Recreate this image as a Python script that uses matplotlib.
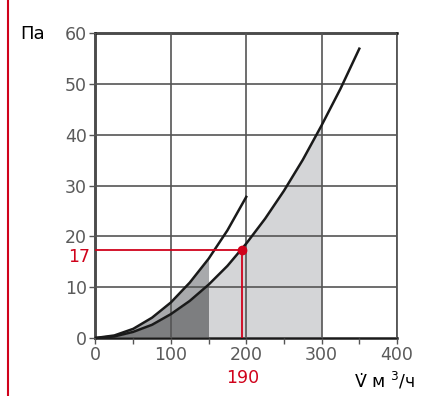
import numpy as np
import matplotlib.pyplot as plt

# upper curve (reduced range) and lower curve
x_up = [0, 25, 50, 75, 100, 125, 150, 175, 200]
y_up = [0, 0.5, 1.8, 4.0, 7.0, 10.9, 15.6, 21.2, 27.8]
x_lo = [0, 25, 50, 75, 100, 125, 150, 175, 200, 225, 250, 275, 300, 325, 350]
y_lo = [0, 0.3, 1.2, 2.6, 4.7, 7.3, 10.5, 14.2, 18.6, 23.5, 29.0, 35.1, 41.9, 49.1, 57.0]

# operating point
op_x, op_y = 195, 17.4
op_xlabel, op_ylabel = "190", "17"

x_ticks = [0, 100, 200, 300, 400]
y_ticks = [0, 10, 20, 30, 40, 50, 60]

c_dark, c_mid, c_light = "#7d7e80", "#a8a9ac", "#d4d5d7"
c_red = "#d0021b"
c_grid = "#555555"

fig = plt.figure(figsize=(4.29, 3.96), dpi=100)
ax = fig.add_axes([0.2226, 0.1465, 0.7028, 0.769])

xu, yu = np.array(x_up, float), np.array(y_up, float)
xl, yl = np.array(x_lo, float), np.array(y_lo, float)

m1 = xl <= 150
ax.fill_between(xl[m1], 0, yl[m1], color=c_dark, lw=0, zorder=1)
mu = xu <= 150
ax.fill_between(xu[mu], yl[:mu.sum()], yu[mu], color=c_mid, lw=0, zorder=1)
m2 = (xl >= 150) & (xl <= 300)
ax.fill_between(xl[m2], 0, yl[m2], color=c_light, lw=0, zorder=1)

ax.plot(xu, yu, color="#1a1a1a", lw=1.8, zorder=4)
ax.plot(xl, yl, color="#1a1a1a", lw=1.8, zorder=4)

# operating point lines
ax.plot([0, op_x], [op_y, op_y], color=c_red, lw=1.3, zorder=5)
ax.plot([op_x, op_x], [0, op_y], color=c_red, lw=1.3, zorder=5)
ax.plot(op_x, op_y, "o", color=c_red, ms=6, zorder=6)

ax.set_xlim(0, 400)
ax.set_ylim(0, 60)
ax.set_xticks(x_ticks)
ax.set_yticks(y_ticks)
ax.set_xticks([50, 150, 250, 350], minor=True)
ax.grid(True, color=c_grid, lw=1.2, zorder=2)
ax.set_axisbelow(False)
for g in ax.get_xgridlines() + ax.get_ygridlines():
    g.set_zorder(2)

ax.tick_params(axis="both", which="major", labelsize=12.5, labelcolor="#5a5a5a",
               length=4, width=1, color=c_grid, direction="out", pad=2)
ax.tick_params(axis="x", which="minor", length=4, width=1, color=c_grid)
ax.tick_params(axis="y", which="minor", left=False)

for s in ["left", "bottom", "top"]:
    ax.spines[s].set_linewidth(1.8)
    ax.spines[s].set_color("#1a1a1a")
ax.spines["right"].set_linewidth(1.3)
ax.spines["right"].set_color(c_grid)

fig.text(20 / 429, 1 - 34 / 396, "Па", fontsize=13, color="black", ha="left", va="center")
fig.text(90 / 429, 1 - 257 / 396, op_ylabel, fontsize=12.5, color=c_red, ha="right", va="center")
ax.annotate(op_xlabel, xy=(op_x, 0), xytext=(0, -29), textcoords="offset points",
            fontsize=12.5, color=c_red, ha="center", va="center")
fig.text(415 / 429, 1 - 381 / 396, "V\u0307 м $^3$/ч", fontsize=12.5, color="black",
         ha="right", va="center")

# red rule at the left edge
fig.add_artist(plt.Line2D([8 / 429, 8 / 429], [0, 1], color=c_red, lw=1.5))

fig.savefig("out.png", dpi=100)
